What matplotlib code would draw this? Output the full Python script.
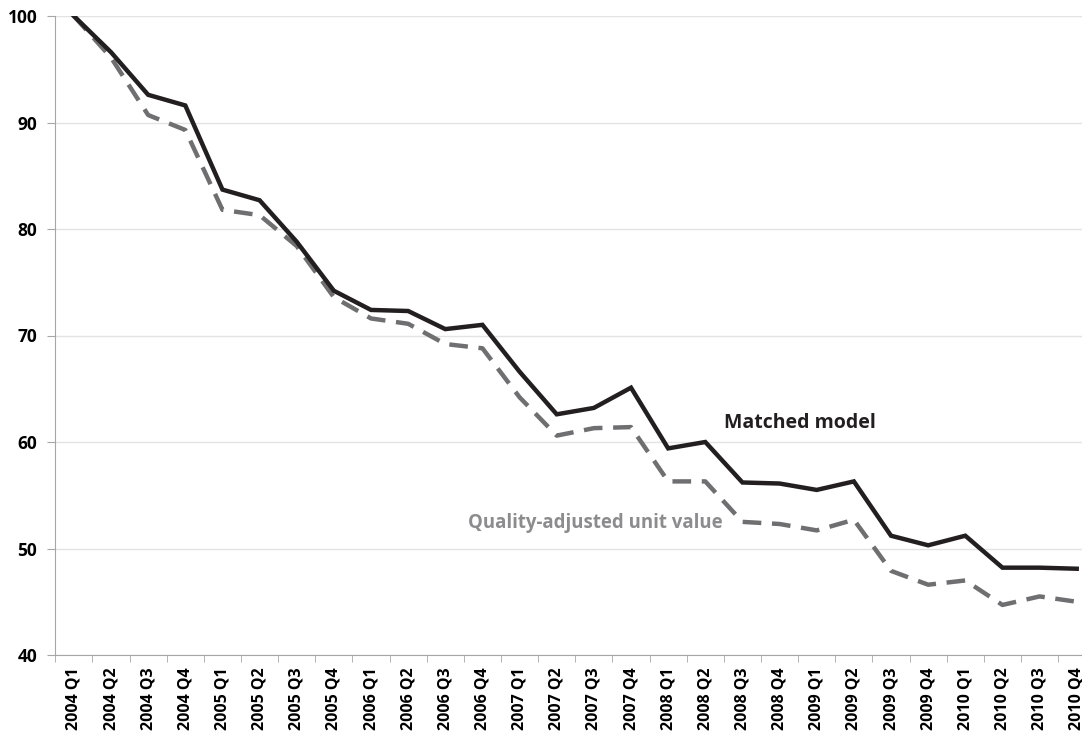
import matplotlib
matplotlib.use("Agg")
import matplotlib.pyplot as plt
import numpy as np

quarters = [f"{y} Q{q}" for y in range(2004, 2011) for q in range(1, 5)]

matched = [100, 96.6, 92.6, 91.6, 83.7, 82.7, 78.8, 74.2, 72.4, 72.3, 70.6, 71.0,
           66.6, 62.6, 63.2, 65.1, 59.4, 60.0, 56.2, 56.1, 55.5, 56.3,
           51.2, 50.3, 51.2, 48.2, 48.2, 48.1]
quality_adj = [100, 96.1, 90.7, 89.3, 81.8, 81.3, 78.4, 73.6, 71.6, 71.1, 69.2, 68.8,
               64.2, 60.6, 61.3, 61.4, 56.3, 56.3, 52.5, 52.3, 51.7, 52.7,
               47.9, 46.6, 47.0, 44.7, 45.5, 45.0]

plt.rcParams['font.family'] = ['Open Sans', 'DejaVu Sans']

fig = plt.figure(figsize=(10.82, 7.35), dpi=100)
ax = fig.add_axes([55.3 / 1082, 80 / 735, 1040 / 1082, 639 / 735])

x = np.arange(len(quarters))
ax.plot(x, matched, color='#231f20', lw=3.2, solid_joinstyle='miter', zorder=3)
ax.plot(x, quality_adj, color='#6f6f72', lw=3.2, dashes=(4.2, 2.4), zorder=2)

ax.set_xlim(-0.5, len(quarters) - 0.5)
ax.set_ylim(40, 100)
ax.set_yticks(range(40, 101, 10))
ax.set_xticks(x)
ax.set_xticklabels(quarters, rotation=90, fontweight='bold', fontsize=11.5)
ax.set_xticks(np.arange(-0.5, len(quarters), 1), minor=True)
ax.tick_params(axis='x', which='major', length=0, pad=9)
ax.tick_params(axis='x', which='minor', length=5, color='#a6a6a6', direction='out')
ax.tick_params(axis='y', length=6, color='#a6a6a6', pad=7, labelsize=12.5)
for lab in ax.get_yticklabels():
    lab.set_fontweight('bold')

ax.grid(axis='y', color='#e3e3e3', lw=1)
ax.set_axisbelow(True)
for s in ['top', 'right']:
    ax.spines[s].set_visible(False)
for s in ['left', 'bottom']:
    ax.spines[s].set_color('#a6a6a6')

ax.text(17.5, 61.8, 'Matched model', color='#231f20', fontsize=14,
        fontweight='bold', va='center')
ax.text(10.6, 52.4, 'Quality-adjusted unit value', color='#8c8c8e', fontsize=13.4,
        fontweight='bold', va='center')

fig.savefig('out.png', dpi=100)
